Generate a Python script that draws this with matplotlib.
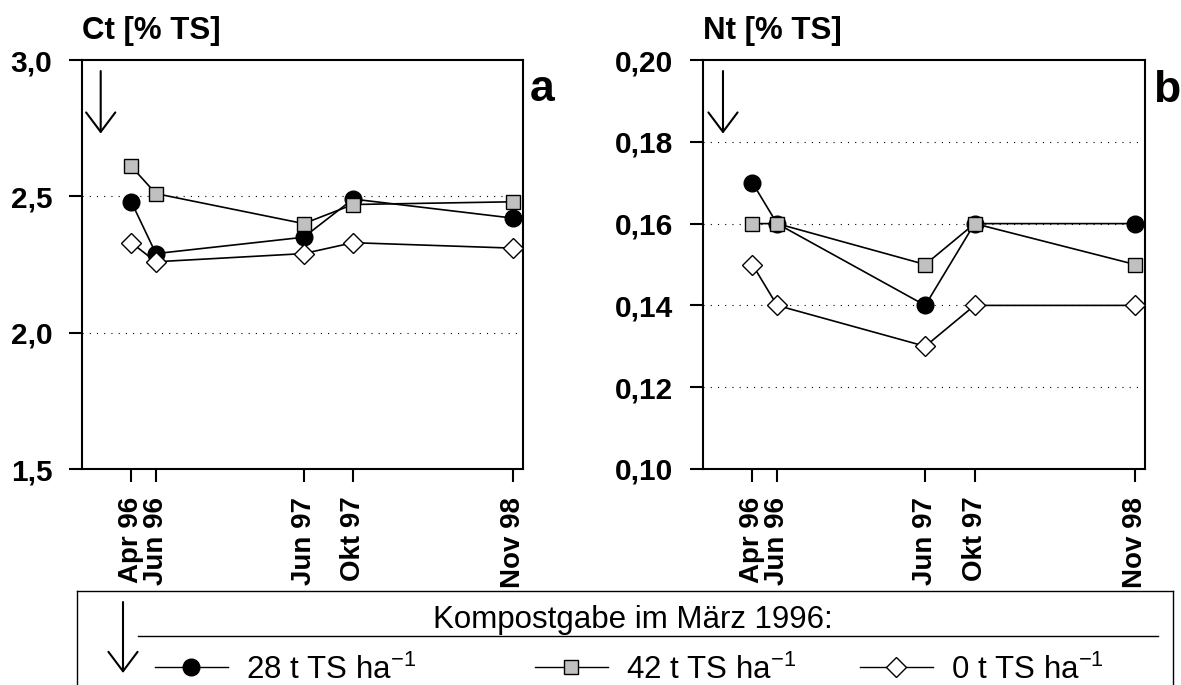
import matplotlib
matplotlib.use("Agg")
import matplotlib.pyplot as plt

plt.rcParams["font.family"] = ["Liberation Sans", "DejaVu Sans"]
plt.rcParams["mathtext.fontset"] = "custom"
plt.rcParams["mathtext.rm"] = "Liberation Sans"
plt.rcParams["mathtext.it"] = "Liberation Sans:italic"
plt.rcParams["mathtext.bf"] = "Liberation Sans:bold"

# sampling dates as months counted from Jan 1996 = 1
months = [4, 6, 18, 22, 35]
month_labels = ["Apr 96", "Jun 96", "Jun 97", "Okt 97", "Nov 98"]

# total carbon [% TS] per compost rate
ct_28 = [2.48, 2.29, 2.35, 2.49, 2.42]
ct_42 = [2.61, 2.51, 2.40, 2.47, 2.48]
ct_0 = [2.33, 2.26, 2.29, 2.33, 2.31]

# total nitrogen [% TS] per compost rate
nt_28 = [0.17, 0.16, 0.14, 0.16, 0.16]
nt_42 = [0.16, 0.16, 0.15, 0.16, 0.15]
nt_0 = [0.15, 0.14, 0.13, 0.14, 0.14]

ct_ticks = [1.5, 2.0, 2.5, 3.0]
ct_grid = [2.0, 2.5]
nt_ticks = [0.10, 0.12, 0.14, 0.16, 0.18, 0.20]
nt_grid = [0.12, 0.14, 0.16, 0.18]

series_labels = ["28 t TS ha$^{-1}$", "42 t TS ha$^{-1}$", "0 t TS ha$^{-1}$"]

STYLES = [
    dict(marker="o", ms=12, mfc="black", mec="black"),
    dict(marker="s", ms=10.5, mfc="#c0c0c0", mec="black"),
    dict(marker="D", ms=10, mfc="white", mec="black"),
]

W, H = 1181, 685
ARROW = dict(arrowstyle="->, head_length=1.4, head_width=1.05",
             lw=1.5, color="black", shrinkA=0, shrinkB=0, mutation_scale=10)


def draw_panel(ax, series, ticks, grid, decimals, title, arrow_x):
    for y in grid:
        ax.axhline(y, color="black", lw=0.8, ls=(0, (1, 5.5)), zorder=1)
    for values, style in zip(series, STYLES):
        ax.plot(months, values, color="black", lw=1.2, mew=1.0,
                zorder=3, clip_on=False, **style)

    ax.set_xlim(0, 35.8)
    ax.set_ylim(ticks[0], ticks[-1])
    ax.set_yticks(ticks)
    ax.set_yticklabels([f"{t:.{decimals}f}".replace(".", ",") for t in ticks],
                       fontsize=21.5, fontweight="bold")
    ax.set_xticks(months)
    ax.set_xticklabels(month_labels, rotation=90, fontsize=20, fontweight="bold")
    ax.tick_params(axis="y", direction="out", length=9.4, width=1.5, pad=12)
    ax.tick_params(axis="x", direction="out", length=9.4, width=1.5, pad=10.5)
    for sp in ax.spines.values():
        sp.set_linewidth(1.5)

    ax.text(0.0, 1.052, title, transform=ax.transAxes, ha="left",
            va="baseline", fontsize=22.5, fontweight="bold")
    # compost application in March 1996
    ax.annotate("", xy=(arrow_x, 0.82), xytext=(arrow_x, 0.973),
                xycoords="axes fraction", textcoords="axes fraction",
                arrowprops=ARROW)


fig = plt.figure(figsize=(W / 100, H / 100), dpi=100)

ax_a = fig.add_axes([82 / W, (H - 469) / H, 441 / W, 409 / H])
ax_b = fig.add_axes([703 / W, (H - 469) / H, 442 / W, 409 / H])

draw_panel(ax_a, [ct_28, ct_42, ct_0], ct_ticks, ct_grid, 1, "Ct [% TS]", 0.0424)
draw_panel(ax_b, [nt_28, nt_42, nt_0], nt_ticks, nt_grid, 2, "Nt [% TS]", 0.0452)

fig.text(530 / W, 1 - 101 / H, "a", ha="left", va="baseline",
         fontsize=32, fontweight="bold")
fig.text(1153 / W, 1 - 102 / H, "b", ha="left", va="baseline",
         fontsize=32, fontweight="bold")

# legend box below both panels, laid out in pixel units
lax = fig.add_axes([77 / W, (H - 705) / H, 1096 / W, 114 / H])
lax.set_xlim(77, 1173)
lax.set_ylim(705, 591)
lax.set_xticks([])
lax.set_yticks([])
for sp in lax.spines.values():
    sp.set_linewidth(1.0)

lax.text(633, 628, "Kompostgabe im März 1996:", ha="center", va="baseline",
         fontsize=22.5)
lax.plot([138, 1158], [636, 636], color="black", lw=1.0)
lax.annotate("", xy=(123, 673), xytext=(123, 602), xycoords="data",
             arrowprops=ARROW)

handle_centers = [191, 571, 896]
for cx, label, style in zip(handle_centers, series_labels, STYLES):
    lax.plot([cx - 36.5, cx + 36.5], [667, 667], color="black", lw=1.0)
    lax.plot([cx], [667], color="black", mew=1.0, linestyle="none", **style)
    lax.text(cx + 55, 679, label, ha="left", va="baseline", fontsize=22.5)

fig.savefig("out.png", dpi=100)
